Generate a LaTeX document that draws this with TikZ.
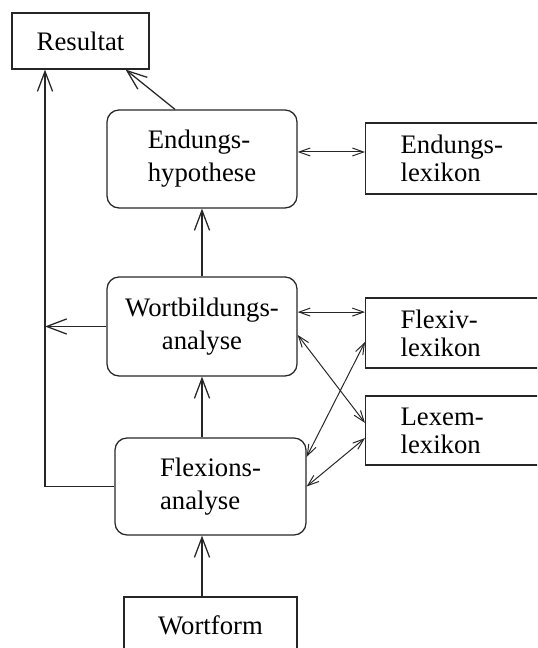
\documentclass[tikz,border=0pt]{standalone}
\usepackage{fontspec}
\setmainfont{Liberation Serif}
\usetikzlibrary{
  arrows.meta
}

\begin{document}
\begin{tikzpicture}[
	font=\fontsize{19}{20}\selectfont,
	box/.style={draw=black!85, line width=0.9pt, rectangle, align=center, inner sep=0pt},
	rbox/.style={box, rounded corners=0.3cm, font=\fontsize{19}{23.5}\selectfont},
	lexbox/.style={box, anchor=west, text width=3.25cm, inner xsep=0.875cm, align=left, minimum height=1.75cm},
	bigarr/.style={draw=black!85, line width=0.9pt, -{Straight Barb[length=5mm,width=3.8mm]}},
	smallarr/.style={draw=black!85, line width=0.7pt, {Straight Barb[length=2.8mm,width=2mm]}-{Straight Barb[length=2.8mm,width=2mm]}},
]
	\useasboundingbox (0,0) rectangle (13.425,16.2);
	\clip (0,0) rectangle (13.425,16.2);
	% left column
	\node[box, minimum width=3.425cm, minimum height=1.4cm] (res) at (2.0125,15.175) {Resultat};
	\node[rbox, minimum width=4.75cm, minimum height=2.45cm, align=left] (endh) at (5.05,12.225) {Endungs-\\hypothese};
	\node[rbox, minimum width=4.75cm, minimum height=2.475cm] (wbil) at (5.05,8.0375) {Wortbildungs-\\analyse};
	\node[rbox, minimum width=4.775cm, minimum height=2.425cm, align=left] (flex) at (5.2625,4.0375) {Flexions-\\analyse};
	\node[box, minimum width=4.325cm, minimum height=1.4cm] (wform) at (5.2625,0.575) {Wortform};
	% lexika
	\node[lexbox, minimum height=1.775cm] (endlex) at (9.125,12.2375) {Endungs-\\lexikon};
	\node[lexbox] (flexlex) at (9.125,7.875) {Flexiv-\\lexikon};
	\node[lexbox, minimum height=1.725cm] (lexlex) at (9.125,5.4375) {Lexem-\\lexikon};

	\coordinate (bus) at (1.125,0 |- wbil.west);
	\draw[bigarr] (wbil.west) -- (bus);
	\draw[bigarr] (flex.west) -| (bus |- res.south);
	\draw[bigarr] ([xshift=-0.675cm]endh.north) -- ([xshift=-0.6cm]res.south east);
	\draw[bigarr] (wform.north -| wbil) -- (flex.south -| wbil);
	\draw[bigarr] (flex.north -| wbil) -- (wbil.south);
	\draw[bigarr] (wbil.north) -- (endh.south);

	\draw[smallarr] ([yshift=0.175cm]endh.east) -- ([yshift=0.175cm]endh.east -| endlex.west);
	\draw[smallarr] ([yshift=0.36cm]wbil.east) -- ([yshift=0.36cm]wbil.east -| flexlex.west);
	\draw[smallarr] ([yshift=-0.21cm]wbil.east) -- ([yshift=0.19cm]lexlex.west);
	\draw[smallarr] ([yshift=-0.225cm]flexlex.west) -- ([yshift=0.74cm]flex.east);
	\draw[smallarr] ([yshift=-0.19cm]lexlex.west) -- (flex.east);
\end{tikzpicture}
\end{document}
